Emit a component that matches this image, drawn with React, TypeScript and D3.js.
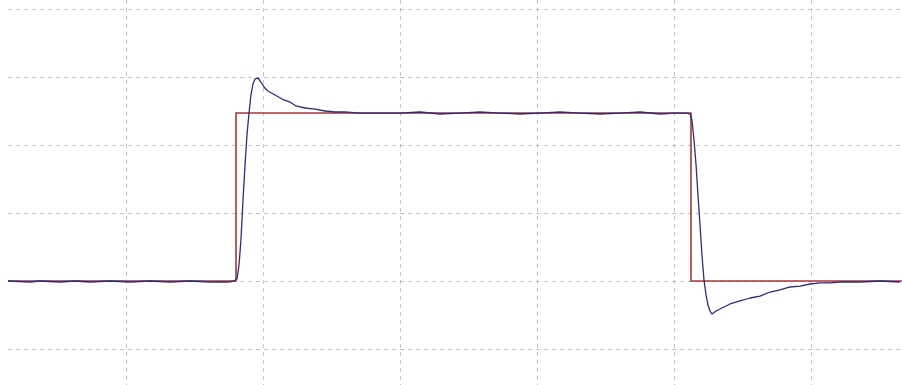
import React from "react";
import * as d3 from "d3";

// time in ms (grid every 10 ms), value in V (grid every 1 V)
const gridTimes = [10, 20, 30, 40, 50, 60];
const gridValues = [-1, 0, 1, 2, 3, 4];

const refTime = [1.39, 18.03, 18.03, 51.24, 51.24, 66.64];
const refValue = [0, 0, 2.47, 2.47, 0, 0];

const respTime = [
  1.39, 2.99, 3.72, 5.18, 6.28, 7.37, 8.83, 10.29, 11.75, 13.21, 14.67, 16.13, 17.45, 17.88,
  18.1, 18.25, 18.39, 18.54, 18.69, 18.83, 18.98, 19.12, 19.27, 19.42, 19.64, 19.85, 20.07,
  20.36, 20.88, 21.39, 21.97, 22.41, 23.07, 23.8, 24.53, 25.26, 25.99, 27.08, 28.54, 30.0,
  31.46, 32.92, 34.38, 35.84, 37.3, 38.76, 40.22, 41.68, 43.14, 44.6, 46.06, 47.52, 48.98,
  50.07, 50.88, 51.17, 51.31, 51.46, 51.61, 51.75, 51.9, 52.04, 52.19, 52.34, 52.48, 52.63,
  52.77, 53.07, 53.5, 54.09, 54.82, 55.55, 56.28, 57.01, 57.74, 58.47, 59.2, 59.93, 60.66,
  61.39, 62.12, 63.58, 65.04, 66.5,
];
const respValue = [
  0, -0.015, 0, -0.015, 0, -0.015, 0, -0.015, 0, -0.015, 0, -0.015, -0.015, 0,
  0.03, 0.235, 0.603, 1.19, 1.706, 2.147, 2.47, 2.735, 2.897, 2.971, 2.985, 2.926, 2.853,
  2.794, 2.735, 2.676, 2.632, 2.574, 2.544, 2.529, 2.5, 2.485, 2.485, 2.47, 2.47, 2.47,
  2.485, 2.456, 2.47, 2.485, 2.47, 2.456, 2.47, 2.485, 2.47, 2.456, 2.47, 2.485, 2.456,
  2.47, 2.47, 2.456, 2.368, 2.074, 1.706, 1.265, 0.824, 0.382, 0.015, -0.206, -0.353, -0.441,
  -0.485, -0.441, -0.397, -0.338, -0.294, -0.25, -0.221, -0.162, -0.132, -0.088, -0.074, -0.044, -0.029,
  -0.029, -0.015, -0.015, 0, -0.015,
];

const W = 902;
const H = 385;

export default function App() {
  const x = d3.scaleLinear().domain([0, 70]).range([-11, 948]);
  const y = d3.scaleLinear().domain([0, 4]).range([281, 9]);

  const line = d3
    .line<[number, number]>()
    .x((d) => x(d[0]))
    .y((d) => y(d[1]));

  const refPts: [number, number][] = refTime.map((t, i) => [t, refValue[i]]);
  const respPts: [number, number][] = respTime.map((t, i) => [t, respValue[i]]);

  return (
    <svg
      width={W}
      height={H}
      style={{ position: "absolute", left: 0, top: 0, background: "#fff" }}
    >
      <g stroke="#c4c4c4" strokeWidth={1} strokeDasharray="4,4" fill="none">
        {gridValues.map((v) => (
          <line key={"h" + v} x1={8} x2={W} y1={Math.round(y(v)) + 0.5} y2={Math.round(y(v)) + 0.5} />
        ))}
        {gridTimes.map((t) => (
          <line key={"v" + t} x1={Math.round(x(t)) + 0.5} x2={Math.round(x(t)) + 0.5} y1={0} y2={H} />
        ))}
      </g>
      <path d={line(refPts) || ""} fill="none" stroke="#b03434" strokeWidth={1.6} />
      <path d={line(respPts) || ""} fill="none" stroke="#2c2c78" strokeWidth={1.3} strokeLinejoin="round" />
    </svg>
  );
}
